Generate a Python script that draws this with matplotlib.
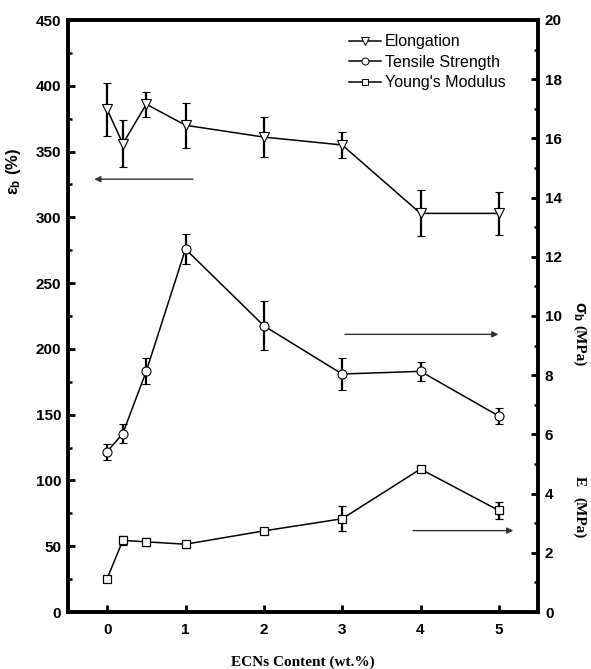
import matplotlib
matplotlib.use('Agg')
import matplotlib.pyplot as plt
from matplotlib.ticker import MultipleLocator
from matplotlib.lines import Line2D

# ---- data ----
content = [0, 0.2, 0.5, 1, 2, 3, 4, 5]
elongation = [382, 356, 386, 370, 361, 355, 303, 303]          # %
elongation_err = [20, 18, 9.5, 17, 15, 10, 17.5, 16.5]
tensile = [5.42, 6.03, 8.14, 12.26, 9.67, 8.04, 8.13, 6.62]     # MPa
tensile_err = [0.27, 0.33, 0.45, 0.5, 0.82, 0.53, 0.33, 0.27]
modulus = [1.13, 2.42, 2.37, 2.29, 2.74, 3.15, 4.83, 3.43]      # MPa
modulus_err = [0.1, 0.15, 0.14, 0.08, 0.09, 0.43, 0.08, 0.3]
x_ticks = [0, 1, 2, 3, 4, 5]

plt.rcParams['font.family'] = ['Liberation Sans', 'DejaVu Sans']
plt.rcParams['mathtext.fontset'] = 'custom'
plt.rcParams['mathtext.rm'] = 'Liberation Sans:bold'
plt.rcParams['mathtext.it'] = 'Liberation Sans:bold'
plt.rcParams['mathtext.bf'] = 'Liberation Sans:bold'

fig = plt.figure(figsize=(5.91, 6.69), dpi=100)
ax = fig.add_axes([68/591, 1-612/669, (538-68)/591, (612-20)/669])
ax2 = ax.twinx()

lw_line = 1.1
lw_err = 1.6
ms = 6.5
cap = 2.8

ax.errorbar(content, elongation, yerr=elongation_err, color='black', lw=lw_line,
            elinewidth=lw_err, capsize=cap, capthick=lw_err, marker='v', ms=ms+0.5,
            mfc='white', mec='black', mew=0.8, zorder=3)
ax2.errorbar(content, tensile, yerr=tensile_err, color='black', lw=lw_line,
             elinewidth=lw_err, capsize=cap, capthick=lw_err, marker='o', ms=ms,
             mfc='white', mec='black', mew=0.8, zorder=3)
ax2.errorbar(content, modulus, yerr=modulus_err, color='black', lw=lw_line,
             elinewidth=lw_err, capsize=cap, capthick=lw_err, marker='s', ms=ms-1,
             mfc='white', mec='black', mew=0.9, zorder=3)

ax.set_xlim(-0.5, 5.5)
ax.set_ylim(0, 450)
ax2.set_ylim(0, 20)
ax.set_xticks(x_ticks)
ax.yaxis.set_major_locator(MultipleLocator(50))
ax.yaxis.set_minor_locator(MultipleLocator(25))
ax2.yaxis.set_major_locator(MultipleLocator(2))
ax2.yaxis.set_minor_locator(MultipleLocator(1))

for a in (ax, ax2):
    for s in a.spines.values():
        s.set_linewidth(2.6)
    a.tick_params(which='major', direction='in', length=5, width=2,
                  labelsize=11, pad=5)
    a.tick_params(which='minor', direction='in', length=3, width=1.8)
    for lab in a.get_xticklabels() + a.get_yticklabels():
        lab.set_fontweight('bold')
ax.tick_params(axis='x', which='major', pad=8)
ax.tick_params(top=False)

# axis labels
ax.set_xlabel('ECNs Content (wt.%)', family='Liberation Serif', fontweight='bold',
              fontsize=11, labelpad=13)
ax.text(-0.115, 0.745, r'$\varepsilon_b$ (%)', transform=ax.transAxes, rotation=90,
        ha='center', va='center', fontsize=12, fontweight='bold')
ax2.text(1.087, 0.492, r'$\sigma_b$', transform=ax2.transAxes, rotation=270,
         ha='center', va='bottom', fontsize=12, fontweight='bold')
ax2.text(1.087, 0.485, '(MPa)', transform=ax2.transAxes, rotation=270,
         ha='center', va='top', fontsize=11, fontweight='bold', family='Liberation Serif')
ax2.text(1.087, 0.212, 'E', transform=ax2.transAxes, rotation=270,
         ha='center', va='bottom', fontsize=11, fontweight='bold', family='Liberation Serif')
ax2.text(1.087, 0.195, '(MPa)', transform=ax2.transAxes, rotation=270,
         ha='center', va='top', fontsize=11, fontweight='bold', family='Liberation Serif')

# arrows pointing to the relevant axes
arr = dict(arrowstyle='-|>', color='#333333', lw=1.0, mutation_scale=9)
ax.annotate('', xy=(-0.2, 329), xytext=(1.13, 329), arrowprops=arr)
ax2.annotate('', xy=(5.03, 9.38), xytext=(3.0, 9.38), arrowprops=arr)
ax2.annotate('', xy=(5.22, 2.75), xytext=(3.87, 2.75), arrowprops=arr)

# legend
handles = [Line2D([], [], color='black', lw=1.1, marker='v', ms=5.5, mfc='white', mec='black', mew=0.7),
           Line2D([], [], color='black', lw=1.1, marker='o', ms=5, mfc='white', mec='black', mew=0.7),
           Line2D([], [], color='black', lw=1.1, marker='s', ms=5, mfc='white', mec='black', mew=0.7)]
ax2.legend(handles, ['Elongation', 'Tensile Strength', "Young's Modulus"],
           loc='upper right', bbox_to_anchor=(0.955, 0.995), frameon=False, fontsize=11.5,
           handlelength=2.0, handletextpad=0.25, labelspacing=0.35, borderaxespad=0.3)

fig.savefig('out.png', dpi=100)
